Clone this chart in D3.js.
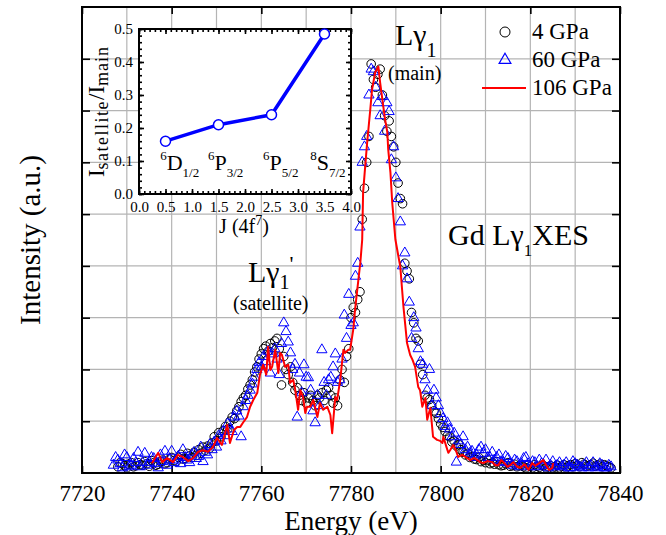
<!DOCTYPE html>
<meta charset="utf-8">
<style>
body { margin: 0; background: #fff; }
text { font-family: 'Liberation Serif', 'Times New Roman', serif; fill: #000; }
.grid line { stroke: #b4b4b4; stroke-width: 1.2; }
.frame { fill: none; stroke: #000; stroke-width: 2; }
.axis path { display: none; }
.axis line { stroke: #000; stroke-width: 1.6; }
</style>
<body>
<script src="https://d3js.org/d3.v7.min.js"></script>
<script>
// ---- data ----
var energyTicks = [7720, 7740, 7760, 7780, 7800, 7820, 7840];
var energyGrid = [7730, 7740, 7750, 7760, 7770, 7780, 7790, 7800, 7810, 7820, 7830];
var intensityTicks = [1, 2, 3, 4, 5, 6, 7, 8];

// 4 GPa (open circles), [energy eV, intensity a.u.]
var gpa4 = [
  [7728,0.12],[7729,0.18],[7730,0.1],[7731,0.2],[7732,0.14],[7733,0.16],[7734,0.22],[7735,0.13],
  [7736,0.2],[7737,0.17],[7738,0.25],[7739,0.2],[7740,0.3],[7741,0.22],[7742,0.36],[7743,0.28],
  [7744,0.33],[7745,0.4],[7745.5,0.34],[7746,0.45],[7746.5,0.38],[7747,0.5],[7747.5,0.44],[7748,0.52],
  [7748.5,0.48],[7749,0.58],[7749.5,0.7],[7750,0.62],[7750.5,0.78],[7751,0.7],[7751.5,0.82],[7752,0.9],
  [7752.5,0.85],[7753,1.0],[7753.5,1.08],[7754,1.05],[7754.5,1.2],[7755,1.28],[7755.5,1.38],[7756,1.45],
  [7756.5,1.5],[7757,1.62],[7757.5,1.7],[7758,1.8],[7758.5,1.95],[7759,2.05],[7759.5,2.2],[7760,2.3],
  [7760.5,2.4],[7761,2.45],[7761.5,2.35],[7762,2.5],[7762.5,2.42],[7763,2.55],[7763.5,2.6],[7764,2.4],
  [7764.5,1.7],[7765,2.25],[7765.5,2.0],[7766,1.9],[7766.5,2.05],[7767,1.75],[7767.5,1.6],[7768,1.65],
  [7768.5,1.5],[7769,1.4],[7769.5,1.55],[7770,1.35],[7770.5,1.45],[7771,1.5],[7771.5,1.4],[7772,1.3],
  [7772.5,1.5],[7773,1.45],[7773.5,1.55],[7774,1.4],[7774.5,1.6],[7775,1.65],[7775.5,1.5],[7776,1.35],
  [7776.5,1.45],[7777,1.3],[7777.5,1.8],[7778,2.0],[7778.5,1.75],[7779,2.25],[7779.5,2.4],[7780,3.0],
  [7780.5,3.2],[7781,3.1],[7781.5,3.35],[7782,3.5],[7782.5,4.9],[7783,5.5],[7783.5,6.0],[7784,6.5],
  [7784.5,7.9],[7785,7.6],[7785.5,7.45],[7786,7.7],[7786.5,7.8],[7787,7.3],[7787.5,6.9],[7788,6.6],
  [7788.5,6.8],[7789,6.5],[7789.5,6.3],[7790,6.0],[7790.5,5.6],[7791,5.3],[7791.5,5.2],[7792,4.05],
  [7792.5,3.9],[7793,3.75],[7793.5,3.1],[7794,2.9],[7794.5,2.6],[7795,2.55],[7795.5,2.1],[7796,1.9],
  [7796.5,1.5],[7797,1.45],[7797.5,1.42],[7798,1.3],[7798.5,1.2],[7799,1.15],[7799.5,1.05],[7800,0.95],
  [7800.5,0.88],[7801,0.8],[7801.5,0.72],[7802,0.7],[7802.5,0.6],[7803,0.62],[7803.5,0.52],[7804,0.55],
  [7804.5,0.45],[7805,0.4],[7805.5,0.35],[7806,0.38],[7806.5,0.3],[7807,0.32],[7807.5,0.27],[7808,0.26],
  [7809,0.22],[7810,0.2],[7811,0.18],[7812,0.17],[7813,0.16],[7814,0.15],[7815,0.2],[7816,0.14],
  [7817,0.12],[7818,0.15],[7819,0.1],[7820,0.13],[7821,0.16],[7822,0.11],[7823,0.14],[7824,0.12],
  [7825,0.1],[7826,0.15],[7827,0.13],[7828,0.1],[7829,0.16],[7830,0.18],[7831,0.12],[7832,0.17],
  [7833,0.14],[7834,0.19],[7835,0.15],[7836,0.12],[7837,0.14],[7838,0.1],
  [7728.5,0.2],[7729.5,0.14],[7730.5,0.17],[7731.5,0.12],[7732.5,0.2],[7733.5,0.15],[7734.5,0.18],
  [7735.5,0.24],[7736.5,0.15],[7737.5,0.22],[7738.5,0.18],[7739.5,0.27],[7740.5,0.24],[7741.5,0.3],
  [7742.5,0.27],[7743.5,0.38],[7744.5,0.3],
  [7808.5,0.3],[7809.5,0.24],[7810.5,0.25],[7811.5,0.2],[7812.5,0.22],[7813.5,0.14],[7814.5,0.18],
  [7815.5,0.13],[7816.5,0.17],[7817.5,0.14],[7818.5,0.12],[7819.5,0.16],[7820.5,0.1],[7821.5,0.13],
  [7822.5,0.15],[7823.5,0.1],[7824.5,0.14],[7825.5,0.12],[7826.5,0.1],[7827.5,0.16],[7828.5,0.14],
  [7829.5,0.12],[7830.5,0.15],[7831.5,0.2],[7832.5,0.13],[7833.5,0.16],[7834.5,0.13],[7835.5,0.17],
  [7836.5,0.16],[7837.5,0.12]
];

// 60 GPa (open triangles)
var gpa60 = [
  [7727,0.15],[7728,0.25],[7729,0.1],[7730,0.3],[7731,0.15],[7732,0.2],[7733,0.12],[7734,0.38],
  [7735,0.2],[7736,0.28],[7737,0.1],[7738,0.22],[7739,0.15],[7740,0.42],[7741,0.25],[7742,0.18],
  [7743,0.3],[7744,0.2],[7745,0.4],[7745.5,0.28],[7746,0.32],[7746.5,0.5],[7747,0.22],[7747.5,0.4],
  [7748,0.35],[7748.5,0.55],[7749,0.45],[7749.5,0.6],[7750,0.5],[7750.5,0.72],[7751,0.62],[7751.5,0.8],
  [7752,0.72],[7752.5,0.95],[7753,0.85],[7753.5,0.8],[7754,1.08],[7754.5,1.2],[7755,1.1],[7755.5,0.7],
  [7756,1.28],[7756.5,1.4],[7757,1.5],[7757.5,1.6],[7758,1.72],[7758.5,1.85],[7759,2.0],[7759.5,2.13],
  [7760,2.05],[7760.5,2.25],[7761,2.15],[7761.5,2.35],[7762,1.93],[7762.5,2.3],[7763,2.4],[7763.5,2.2],
  [7764,1.9],[7764.5,2.5],[7765,2.9],[7765.5,2.73],[7766,2.53],[7766.5,2.32],[7767,2.0],[7767.5,2.1],
  [7768,1.08],[7768.5,1.93],[7769,1.55],[7769.5,2.09],[7770,1.85],[7770.5,1.84],[7771,1.6],[7771.5,1.2],
  [7772,0.97],[7772.5,1.5],[7773,1.3],[7773.5,2.38],[7774,1.75],[7774.5,1.5],[7775,1.8],[7775.5,1.85],
  [7776,2.05],[7776.5,2.3],[7777,1.75],[7777.5,1.8],[7778,2.2],[7778.5,3.05],[7779,2.6],[7779.5,3.45],
  [7780,2.85],[7780.5,2.9],[7781,3.8],[7781.5,4.05],[7782,4.75],[7782.5,6.0],[7783,6.3],[7783.5,6.5],
  [7784,7.3],[7784.5,7.8],[7785,7.75],[7785.5,7.45],[7786,7.15],[7786.5,6.9],[7787,7.27],[7787.5,6.6],
  [7788,7.15],[7788.5,6.98],[7789,6.05],[7789.5,6.3],[7790,5.7],[7790.5,5.3],[7791,4.85],[7791.5,4.0],
  [7792,4.25],[7792.5,3.75],[7793,3.3],[7793.5,2.6],[7794,3.0],[7794.5,2.8],[7795,2.4],[7795.5,2.15],
  [7796,2.1],[7796.5,1.8],[7797,1.6],[7797.5,2.0],[7798,1.3],[7798.5,1.6],[7799,1.45],[7799.5,1.3],
  [7800,1.15],[7800.5,1.05],[7801,0.9],[7801.5,0.97],[7802,0.85],[7802.5,0.7],[7803,0.77],[7803.5,0.21],
  [7804,0.62],[7804.5,0.55],[7805,0.7],[7805.5,0.45],[7806,0.5],[7806.5,0.38],[7807,0.42],[7807.5,0.3],
  [7808,0.35],[7809,0.5],[7810,0.45],[7811,0.3],[7812,0.25],[7813,0.35],[7814,0.2],[7815,0.28],
  [7816,0.15],[7817,0.22],[7818,0.18],[7819,0.3],[7820,0.12],[7821,0.2],[7822,0.25],[7823,0.15],
  [7824,0.1],[7825,0.22],[7826,0.15],[7827,0.12],[7828,0.2],[7829,0.1],[7830,0.18],[7831,0.12],
  [7832,0.15],[7833,0.1],[7834,0.2],[7835,0.12],[7836,0.15],[7837,0.1],[7838,0.12],
  [7727.5,0.3],[7728.5,0.18],[7729.5,0.35],[7730.5,0.12],[7731.5,0.28],[7732.5,0.4],[7733.5,0.2],
  [7734.5,0.15],[7735.5,0.3],[7736.5,0.18],[7737.5,0.35],[7738.5,0.42],[7739.5,0.25],[7740.5,0.2],
  [7741.5,0.32],[7742.5,0.45],[7743.5,0.25],[7744.5,0.35],
  [7808.5,0.45],[7809.5,0.38],[7810.5,0.3],[7811.5,0.4],[7812.5,0.3],[7813.5,0.22],[7814.5,0.32],
  [7815.5,0.18],[7816.5,0.25],[7817.5,0.12],[7818.5,0.28],[7819.5,0.18],[7820.5,0.22],[7821.5,0.12],
  [7822.5,0.18],[7823.5,0.25],[7824.5,0.15],[7825.5,0.12],[7826.5,0.2],[7827.5,0.15],[7828.5,0.1],
  [7829.5,0.22],[7830.5,0.15],[7831.5,0.1],[7832.5,0.2],[7833.5,0.14],[7834.5,0.1],[7835.5,0.18],
  [7836.5,0.1],[7837.5,0.15]
];

// 106 GPa (red line)
var gpa106 = [
  [7735.6,0.19],[7737.0,0.39],[7737.9,0.21],[7739.0,0.29],[7740.3,0.21],[7741.4,0.35],[7742.5,0.31],
  [7743.7,0.23],[7744.8,0.29],[7745.9,0.41],[7747.0,0.44],[7748.1,0.41],[7749.2,0.5],[7750.1,0.68],
  [7751.2,0.54],[7752.4,0.93],[7753.0,0.58],[7753.9,0.83],[7754.6,0.89],[7755.3,0.89],[7755.9,0.97],
  [7756.8,1.08],[7757.5,1.28],[7758.2,1.41],[7759.1,1.55],[7759.7,1.9],[7760.4,2.09],[7761.1,1.9],
  [7761.5,2.44],[7762.0,1.99],[7762.4,2.05],[7763.1,2.38],[7763.8,1.93],[7764.2,2.32],[7764.6,2.28],
  [7765.3,2.05],[7766.0,2.09],[7766.4,1.74],[7767.1,1.8],[7767.5,1.64],[7768.2,1.22],[7768.7,1.6],
  [7769.3,1.47],[7769.8,1.16],[7770.2,1.28],[7770.9,1.28],[7771.6,1.41],[7772.5,1.08],[7773.1,1.35],
  [7773.8,1.22],[7774.7,1.28],[7775.4,1.12],[7775.8,0.77],[7776.5,1.47],[7776.9,1.41],[7777.6,1.8],
  [7778.3,2.38],[7778.7,2.32],[7779.4,2.38],[7779.8,2.38],[7780.5,2.77],[7780.9,3.15],[7781.4,3.54],
  [7782.1,4.08],[7782.5,4.51],[7782.7,5.42],[7783.2,5.96],[7783.6,6.38],[7784.3,7.02],[7784.7,7.41],
  [7785.4,7.74],[7786.1,7.85],[7786.5,7.54],[7787.2,7.08],[7787.6,6.83],[7788.1,6.58],[7788.3,6.25],
  [7788.8,5.8],[7789.2,5.22],[7789.9,4.51],[7790.5,4.22],[7791.0,3.98],[7791.4,3.54],[7791.7,3.21],
  [7792.1,2.86],[7792.5,2.51],[7793.2,2.28],[7793.7,2.19],[7794.3,2.05],[7795.0,1.66],[7795.4,1.6],
  [7795.9,1.28],[7796.6,1.45],[7797.0,1.03],[7797.7,1.26],[7798.3,0.7],[7799.2,0.64],[7799.9,0.62],
  [7800.4,0.58],[7800.6,0.7],[7801.3,0.5],[7801.7,0.39],[7802.1,0.44],[7802.8,0.54],[7803.5,0.41],
  [7803.9,0.31],[7804.8,0.35],[7805.5,0.31],[7806.6,0.25],[7807.5,0.29],[7808.2,0.25],[7808.8,0.21],
  [7809.5,0.19],[7810.4,0.23],[7811.5,0.21],[7812.2,0.15],[7812.9,0.15],[7813.5,0.25],[7814.0,0.21],
  [7814.9,0.12],[7815.5,0.15],[7816.2,0.21],[7817.1,0.12],[7817.8,0.1],[7818.7,0.17],[7819.6,0.06],
  [7820.4,0.19],[7821.1,0.14],[7822.0,0.19],[7822.9,0.25],[7823.6,0.14],[7824.2,0.06],[7824.9,0.1],
  [7825.1,0.19]
];

// inset: satellite / main intensity ratio vs J of the 4f7 term
var insetJ = [0.5, 1.5, 2.5, 3.5];
var insetRatio = [0.16, 0.21, 0.24, 0.485];
var insetTerms = [["6", "D", "1/2"], ["6", "P", "3/2"], ["6", "P", "5/2"], ["8", "S", "7/2"]];
var insetXTicks = [0, 0.5, 1, 1.5, 2, 2.5, 3, 3.5, 4];
var insetYTicks = [0, 0.1, 0.2, 0.3, 0.4, 0.5];

// ---- main chart ----
var margin = {top: 7, right: 46, bottom: 62, left: 82},
    width = 666 - margin.left - margin.right,
    height = 535 - margin.top - margin.bottom;

var svg = d3.select("body").append("svg")
    .attr("width", 666)
    .attr("height", 535);

var g = svg.append("g")
    .attr("transform", "translate(" + margin.left + "," + margin.top + ")");

var x = d3.scaleLinear().domain([7720, 7840]).range([0, width]);
var y = d3.scaleLinear().domain([0, 9]).range([height, 0]);

// grid
var grid = g.append("g").attr("class", "grid");
grid.selectAll(".vx").data(energyGrid).enter().append("line")
    .attr("x1", d => x(d)).attr("x2", d => x(d))
    .attr("y1", 0).attr("y2", height);
grid.selectAll(".hy").data(intensityTicks).enter().append("line")
    .attr("x1", 0).attr("x2", width)
    .attr("y1", d => y(d)).attr("y2", d => y(d));

// axes (ticks point inward)
var xb = g.append("g").attr("class", "axis")
    .call(d3.axisBottom(x).tickValues(energyTicks).tickSize(-7).tickPadding(12).tickFormat(d3.format("d")))
    .attr("font-family", "'Liberation Serif', serif")
    .attr("transform", "translate(0," + height + ")");
xb.selectAll("text").style("font-size", "23px");
g.append("g").attr("class", "axis")
    .call(d3.axisTop(x).tickValues(energyTicks).tickSize(-7).tickFormat(""));
g.append("g").attr("class", "axis")
    .call(d3.axisLeft(y).tickValues(intensityTicks).tickSize(-8).tickFormat(""));
g.append("g").attr("class", "axis")
    .attr("transform", "translate(" + width + ",0)")
    .call(d3.axisRight(y).tickValues(intensityTicks).tickSize(-8).tickFormat(""));

// data
var tri = d3.symbol().type(d3.symbolTriangle).size(46);

g.append("g").selectAll("circle").data(gpa4).enter().append("circle")
    .attr("cx", d => x(d[0])).attr("cy", d => y(d[1])).attr("r", 4.3)
    .attr("fill", "none").attr("stroke", "#000").attr("stroke-width", 1);

g.append("g").selectAll("path").data(gpa60).enter().append("path")
    .attr("d", tri)
    .attr("transform", d => "translate(" + x(d[0]) + "," + y(d[1]) + ")")
    .attr("fill", "none").attr("stroke", "#0000ff").attr("stroke-width", 1);

g.append("path").datum(gpa106)
    .attr("fill", "none").attr("stroke", "#ff0000").attr("stroke-width", 2)
    .attr("stroke-linejoin", "round")
    .attr("d", d3.line().x(d => x(d[0])).y(d => y(d[1])));

g.append("rect").attr("class", "frame").attr("width", width).attr("height", height);

// axis titles
svg.append("text")
    .attr("transform", "translate(40," + (margin.top + height / 2) + ") rotate(-90)")
    .attr("text-anchor", "middle").style("font-size", "29px")
    .text("Intensity (a.u.)");
svg.append("text")
    .attr("x", margin.left + width / 2).attr("y", 530)
    .attr("text-anchor", "middle").style("font-size", "27px")
    .text("Energy (eV)");

// peak annotations
var t1 = svg.append("text").attr("x", 395).attr("y", 45).style("font-size", "30px");
t1.append("tspan").text("L\u03b3");
t1.append("tspan").attr("dy", 12).style("font-size", "20px").text("1");
svg.append("text").attr("x", 388).attr("y", 80).style("font-size", "20px").text("(main)");

var t2 = svg.append("text").attr("x", 248).attr("y", 282).style("font-size", "30px");
t2.append("tspan").text("L\u03b3");
t2.append("tspan").attr("dy", 7).style("font-size", "20px").text("1");
t2.append("tspan").attr("dy", -18).style("font-size", "22px").text("'");
svg.append("text").attr("x", 233).attr("y", 310).style("font-size", "20px").text("(satellite)");

var t3 = svg.append("text").attr("x", 448).attr("y", 245).style("font-size", "30px");
t3.append("tspan").text("Gd L\u03b3");
t3.append("tspan").attr("dy", 11).style("font-size", "17px").text("1");
t3.append("tspan").attr("dy", -11).text("XES");

// legend
var lg = svg.append("g").attr("transform", "translate(505,0)");
lg.append("circle").attr("cx", 0).attr("cy", 32).attr("r", 5)
    .attr("fill", "none").attr("stroke", "#000").attr("stroke-width", 1);
lg.append("path").attr("d", d3.symbol().type(d3.symbolTriangle).size(60))
    .attr("transform", "translate(0,60)")
    .attr("fill", "none").attr("stroke", "#0000ff").attr("stroke-width", 1.2);
lg.append("line").attr("x1", -23).attr("x2", 21).attr("y1", 88).attr("y2", 88)
    .attr("stroke", "#ff0000").attr("stroke-width", 2);
lg.selectAll("text").data(["4 GPa", "60 GPa", "106 GPa"]).enter().append("text")
    .attr("x", 27).attr("y", (d, i) => 39 + i * 28)
    .style("font-size", "23px").text(d => d);

// ---- inset ----
var inset = {left: 139, top: 29, width: 212, height: 165};
var ig = svg.append("g").attr("transform", "translate(" + inset.left + "," + inset.top + ")");
var xi = d3.scaleLinear().domain([0, 4]).range([0, inset.width]);
var yi = d3.scaleLinear().domain([0, 0.5]).range([inset.height, 0]);

ig.append("rect").attr("width", inset.width).attr("height", inset.height).attr("fill", "#fff");

var minorX = d3.range(0, 4.001, 0.1), minorY = d3.range(0, 0.5001, 0.02);
ig.append("g").attr("class", "axis").attr("transform", "translate(0," + inset.height + ")")
    .call(d3.axisBottom(xi).tickValues(minorX).tickSize(-3).tickFormat(""));
ig.append("g").attr("class", "axis")
    .call(d3.axisTop(xi).tickValues(minorX).tickSize(-3).tickFormat(""));
ig.append("g").attr("class", "axis")
    .call(d3.axisLeft(yi).tickValues(minorY).tickSize(-3).tickFormat(""));
ig.append("g").attr("class", "axis").attr("transform", "translate(" + inset.width + ",0)")
    .call(d3.axisRight(yi).tickValues(minorY).tickSize(-3).tickFormat(""));

ig.append("g").attr("class", "axis").attr("transform", "translate(0," + inset.height + ")")
    .call(d3.axisBottom(xi).tickValues(insetXTicks).tickSize(-5).tickPadding(7).tickFormat(d3.format(".1f")));
ig.append("g").attr("class", "axis")
    .call(d3.axisTop(xi).tickValues(insetXTicks).tickSize(-5).tickFormat(""));
ig.append("g").attr("class", "axis")
    .call(d3.axisLeft(yi).tickValues(insetYTicks).tickSize(-5).tickPadding(6).tickFormat(d3.format(".1f")));
ig.append("g").attr("class", "axis").attr("transform", "translate(" + inset.width + ",0)")
    .call(d3.axisRight(yi).tickValues(insetYTicks).tickSize(-5).tickFormat(""));
ig.selectAll(".axis").attr("font-family", "'Liberation Serif', serif");
ig.selectAll(".axis text").style("font-size", "15px").attr("fill", "#222");

ig.append("rect").attr("class", "frame").attr("width", inset.width).attr("height", inset.height);

var insetPts = insetJ.map((j, i) => [j, insetRatio[i]]);
ig.append("path").datum(insetPts)
    .attr("fill", "none").attr("stroke", "#0000ff").attr("stroke-width", 3.5)
    .attr("d", d3.line().x(d => xi(d[0])).y(d => yi(d[1])));
ig.selectAll(".pt").data(insetPts).enter().append("circle")
    .attr("cx", d => xi(d[0])).attr("cy", d => yi(d[1])).attr("r", 5)
    .attr("fill", "#fff").attr("stroke", "#0000ff").attr("stroke-width", 1.5);

// term labels
var termStart = [0.4, 1.3, 2.34, 3.23];
insetTerms.forEach(function (t, i) {
  var tx = ig.append("text").attr("x", xi(termStart[i])).attr("y", yi(0.073)).style("font-size", "22px");
  tx.append("tspan").attr("dy", -10).style("font-size", "13px").text(t[0]);
  tx.append("tspan").attr("dy", 10).text(t[1]);
  tx.append("tspan").attr("dy", 7).style("font-size", "13px").text(t[2]);
});

// inset titles
var iyt = svg.append("text")
    .attr("transform", "translate(104," + (inset.top + inset.height / 2) + ") rotate(-90)")
    .attr("text-anchor", "middle").style("font-size", "23px");
iyt.append("tspan").text("I");
iyt.append("tspan").attr("dy", 4).style("font-size", "18px").style("letter-spacing", "1.5px").text("satellite");
iyt.append("tspan").attr("dy", -4).text("/I");
iyt.append("tspan").attr("dy", 4).style("font-size", "18px").style("letter-spacing", "1px").text("main");

var ixt = svg.append("text").attr("x", 244).attr("y", 233)
    .attr("text-anchor", "middle").style("font-size", "20px");
ixt.append("tspan").text("J (4f");
ixt.append("tspan").attr("dy", -8).style("font-size", "14px").text("7");
ixt.append("tspan").attr("dy", 8).text(")");
</script>
</body>
